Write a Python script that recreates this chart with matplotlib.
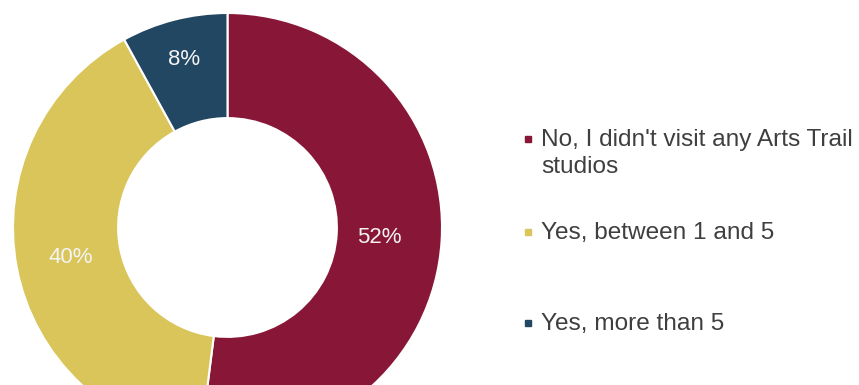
import numpy as np
import matplotlib.pyplot as plt

plt.rcParams['font.family'] = ['Liberation Sans', 'DejaVu Sans']

# survey answers: did you visit any Arts Trail studios?
answers = ["No, I didn't visit any Arts Trail\nstudios", "Yes, between 1 and 5", "Yes, more than 5"]
shares = [52, 40, 8]
colors = ["#881637", "#D9C55A", "#214762"]

W, H = 859, 385
fig = plt.figure(figsize=(W / 100, H / 100), dpi=100)

# donut, centred near the left, bottom part runs off the canvas
cx, cy, R = 227.5, 157.5, 214.5
ax = fig.add_axes([(cx - R) / W, (cy - R) / H, 2 * R / W, 2 * R / H])
wedges, texts, pcts = ax.pie(
    shares, colors=colors, startangle=90, counterclock=False,
    radius=1, autopct="%d%%", pctdistance=0.76,
    wedgeprops=dict(width=0.49, edgecolor="white", linewidth=1.5),
    textprops=dict(color="#F4F4F4", fontsize=16),
)
# nudge each percentage along its wedge's bisector
label_dist = [0.71, 0.745, 0.81]
for w, t, d in zip(wedges, pcts, label_dist):
    a = np.deg2rad((w.theta1 + w.theta2) / 2)
    t.set_position((d * np.cos(a), d * np.sin(a)))
ax.set_xlim(-1, 1)
ax.set_ylim(-1, 1)

# legend drawn by hand so the marker sits on the first line
lg = fig.add_axes([0, 0, 1, 1])
lg.set_xlim(0, W)
lg.set_ylim(H, 0)
lg.axis("off")
baselines = [146, 239, 330]
for label, c, y in zip(answers, colors, baselines):
    lg.plot(528, y - 7.5, marker="s", ms=4.3, color=c, mec=c)
    for k, line in enumerate(label.split("\n")):
        lg.text(541, y + 27 * k, line, fontsize=17.6, color="#3F3F3F", va="baseline")

fig.savefig("out.png", dpi=100)
